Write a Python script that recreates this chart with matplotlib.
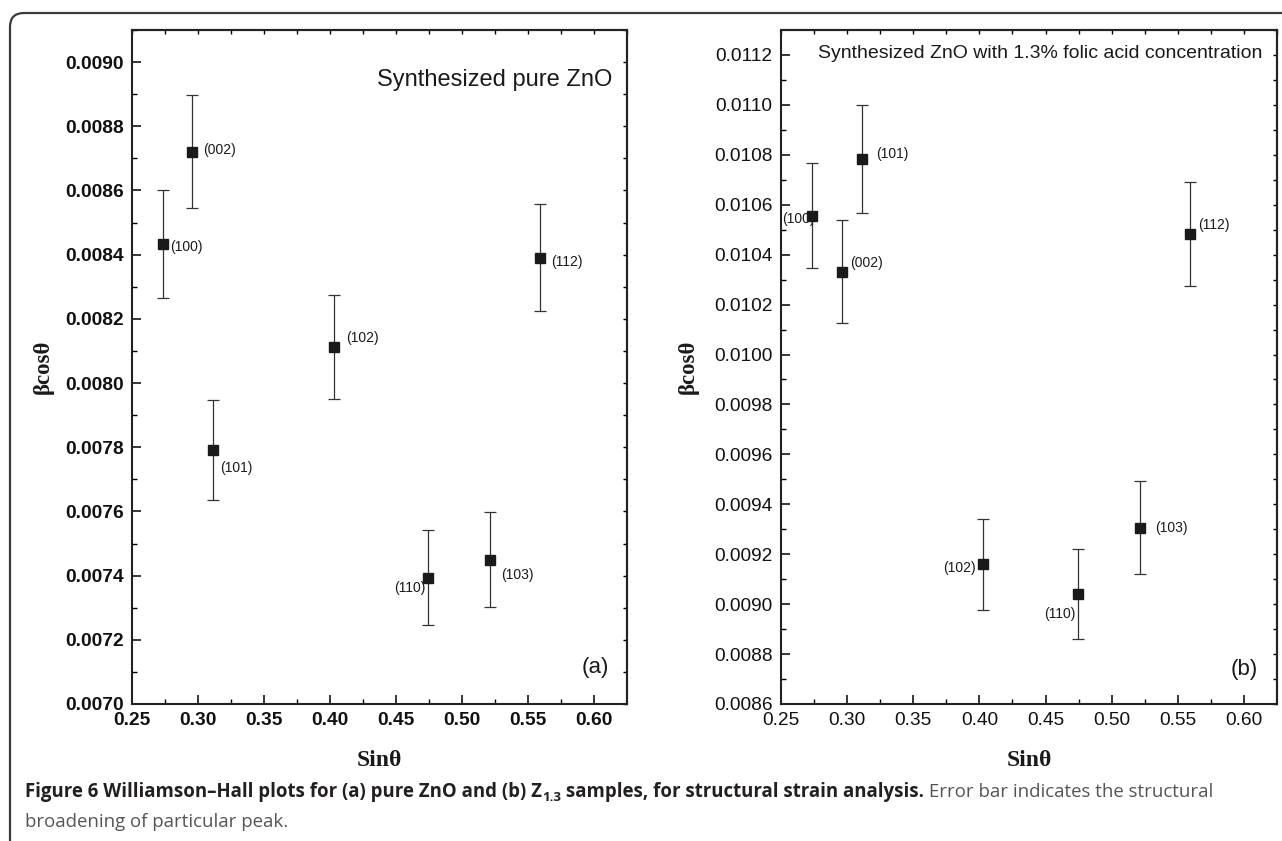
import matplotlib
matplotlib.use("Agg")
import matplotlib.pyplot as plt
import numpy as np
from matplotlib.path import Path
from matplotlib.patches import PathPatch

# ---------------- data ----------------
sin_theta = [0.2738, 0.2958, 0.3110, 0.4030, 0.4743, 0.5213, 0.5590]
hkl = ['(100)', '(002)', '(101)', '(102)', '(110)', '(103)', '(112)']

beta_a = [0.008434, 0.008721, 0.007792, 0.008113, 0.007394, 0.007450, 0.008391]
err_a = [0.000168, 0.000175, 0.000156, 0.000162, 0.000148, 0.000149, 0.000168]

beta_b = [0.010556, 0.010332, 0.010783, 0.009159, 0.009041, 0.009307, 0.010483]
err_b = [0.000210, 0.000206, 0.000215, 0.000183, 0.000180, 0.000186, 0.000209]

title_a = "Synthesized pure ZnO"
title_b = "Synthesized ZnO with 1.3% folic acid concentration"
xticks = [0.25, 0.30, 0.35, 0.40, 0.45, 0.50, 0.55, 0.60]
yticks_a = [0.0070, 0.0072, 0.0074, 0.0076, 0.0078, 0.0080, 0.0082, 0.0084, 0.0086, 0.0088, 0.0090]
yticks_b = [0.0086, 0.0088, 0.0090, 0.0092, 0.0094, 0.0096, 0.0098, 0.0100, 0.0102, 0.0104,
            0.0106, 0.0108, 0.0110, 0.0112]

# label offsets (pixels: dx, dy with +dy down) and alignment
lab_a = [(7, 3, 'left'), (11, -2, 'left'), (8, 18, 'left'), (12, -9, 'left'),
         (-3, 10, 'right'), (11, 15, 'left'), (11, 4, 'left')]
lab_b = [(-30, 3, 'left'), (9, -9, 'left'), (14, -5, 'left'), (-8, 4, 'right'),
         (-2, 20, 'right'), (15, 0, 'left'), (8, -9, 'left')]

W, H = 1282, 841
fig = plt.figure(figsize=(W / 100, H / 100), dpi=100)
fig.patch.set_facecolor('white')

SANS = ['Liberation Sans', 'DejaVu Sans']
SERIF = ['Liberation Serif', 'DejaVu Serif']
PX = 0.72  # points per pixel at 100 dpi


def fx(px):
    return px / W


def fy(py):
    return 1 - py / H


def make_panel(rect, beta, err, labs, yticks, ylim, bold_ticks, title, title_pos,
               title_size, tag, tag_pos):
    ax = fig.add_axes(rect)
    ax.set_xlim(0.25, 0.625)
    ax.set_ylim(*ylim)
    ax.errorbar(sin_theta, beta, yerr=err, fmt='none', ecolor='#333333',
                elinewidth=0.9, capsize=4, capthick=0.9, zorder=2)
    ax.plot(sin_theta, beta, 's', color='#1a1a1a', markersize=7, zorder=4)
    for x, y, t, (dx, dy, ha) in zip(sin_theta, beta, hkl, labs):
        ax.annotate(t, (x, y), xytext=(dx * PX, -dy * PX), textcoords='offset points',
                    ha=ha, va='center', fontsize=10, family=SANS, color='#1a1a1a',
                    zorder=3)
    ax.set_xticks(xticks)
    ax.set_xticks(np.arange(0.275, 0.625, 0.05), minor=True)
    ax.set_yticks(yticks)
    mids = [v + 0.0001 for v in yticks]
    ax.set_yticks([m for m in mids if m < ylim[1]], minor=True)
    ax.set_xticklabels([f"{v:.2f}" for v in xticks])
    ax.set_yticklabels([f"{v:.4f}" for v in yticks])
    weight = 'bold' if bold_ticks else 'normal'
    for lbl in ax.get_xticklabels() + ax.get_yticklabels():
        lbl.set_fontfamily(SANS)
        lbl.set_fontweight(weight)
        lbl.set_fontsize(13.8)
        lbl.set_color('#111111')
    ax.tick_params(which='major', direction='in', length=6.5, width=1.1, pad=6,
                   top=False, right=False)
    ax.tick_params(which='minor', direction='in', length=3.6, width=1.0,
                   top=False, right=False)
    for s in ax.spines.values():
        s.set_linewidth(1.5)
        s.set_color('#222222')
    # top / right short ticks
    secx = ax.secondary_xaxis('top')
    secx.set_xticks(list(np.arange(0.25, 0.626, 0.025)))
    secx.tick_params(direction='in', length=3.2, width=1.0, labeltop=False)
    secx.spines['top'].set_linewidth(1.5)
    secx.spines['top'].set_color('#222222')
    secy = ax.secondary_yaxis('right')
    secy.set_yticks(list(yticks) + mids)
    secy.tick_params(direction='in', length=3.2, width=1.0, labelright=False)
    secy.spines['right'].set_linewidth(1.5)
    secy.spines['right'].set_color('#222222')
    ax.text(title_pos[0], title_pos[1], title, transform=ax.transAxes, ha='right',
            va='center', fontsize=title_size, family=SANS, color='#1a1a1a')
    ax.text(tag_pos[0], tag_pos[1], tag, transform=ax.transAxes, ha='right',
            va='center', fontsize=16, family=SANS, color='#1a1a1a')
    return ax


top_px, bot_px = 30, 704
rect_a = [fx(132), fy(bot_px), fx(627 - 132), (bot_px - top_px) / H]
rect_b = [fx(781), fy(bot_px), fx(1277 - 781), (bot_px - top_px) / H]


def axfrac(px, py, x0, x1):
    return ((px - x0) / (x1 - x0), (bot_px - py) / (bot_px - top_px))


ax_a = make_panel(rect_a, beta_a, err_a, lab_a, yticks_a, (0.0070, 0.0091), True,
                  title_a, axfrac(612, 80, 132, 627), 17, '(a)',
                  axfrac(609, 667, 132, 627))
ax_b = make_panel(rect_b, beta_b, err_b, lab_b, yticks_b, (0.0086, 0.0113), False,
                  title_b, axfrac(1262, 53, 781, 1277), 14, '(b)',
                  axfrac(1258, 670, 781, 1277))

# axis labels
for xc in (43, 688):
    fig.text(fx(xc), fy(367), 'βcosθ', rotation=90, ha='center', va='center',
             fontsize=16.5, family=SERIF, fontweight='bold', color='#1a1a1a')
for xc in (379, 1029):
    fig.text(fx(xc), fy(760), 'Sinθ', ha='center', va='center',
             fontsize=17, family=SERIF, fontweight='bold', color='#1a1a1a')

# frame (rounded top-left corner)
r = 14
verts = [(fx(10), 0), (fx(10), fy(13 + r)), (fx(10), fy(13)), (fx(10 + r), fy(13)), (1, fy(13))]
codes = [Path.MOVETO, Path.LINETO, Path.CURVE3, Path.CURVE3, Path.LINETO]
fig.patches.append(PathPatch(Path(verts, codes), transform=fig.transFigure, fill=False,
                             edgecolor='#3a3a3a', linewidth=1.6))

# caption
CAP = ['Open Sans', 'DejaVu Sans']
pieces = [("Figure 6 Williamson–Hall plots for (a) pure ZnO and (b) Z", 'bold', 1.0, 0, '#231f20'),
          ("1.3", 'bold', 0.72, -4, '#231f20'),
          (" samples, for structural strain analysis.", 'bold', 1.0, 0, '#231f20'),
          (" Error bar indicates the structural", 'normal', 1.0, 0, '#555555')]
renderer = fig.canvas.get_renderer()


def layout_caption(size):
    x = 25
    texts = []
    for s, w, scale, dy, c in pieces:
        t = fig.text(fx(x), fy(797 - dy), s, ha='left', va='baseline', fontsize=size * scale,
                     family=CAP, fontweight=w, color=c)
        bb = t.get_window_extent(renderer)
        x += bb.width
        texts.append(t)
    return x, texts


end, texts = layout_caption(14)
for t in texts:
    t.remove()
size = 14 * (1212 - 25) / (end - 25)
layout_caption(size)
fig.text(fx(25), fy(827), "broadening of particular peak.", ha='left', va='baseline',
         fontsize=size, family=CAP, color='#555555')

fig.savefig('out.png', dpi=100, facecolor='white')
